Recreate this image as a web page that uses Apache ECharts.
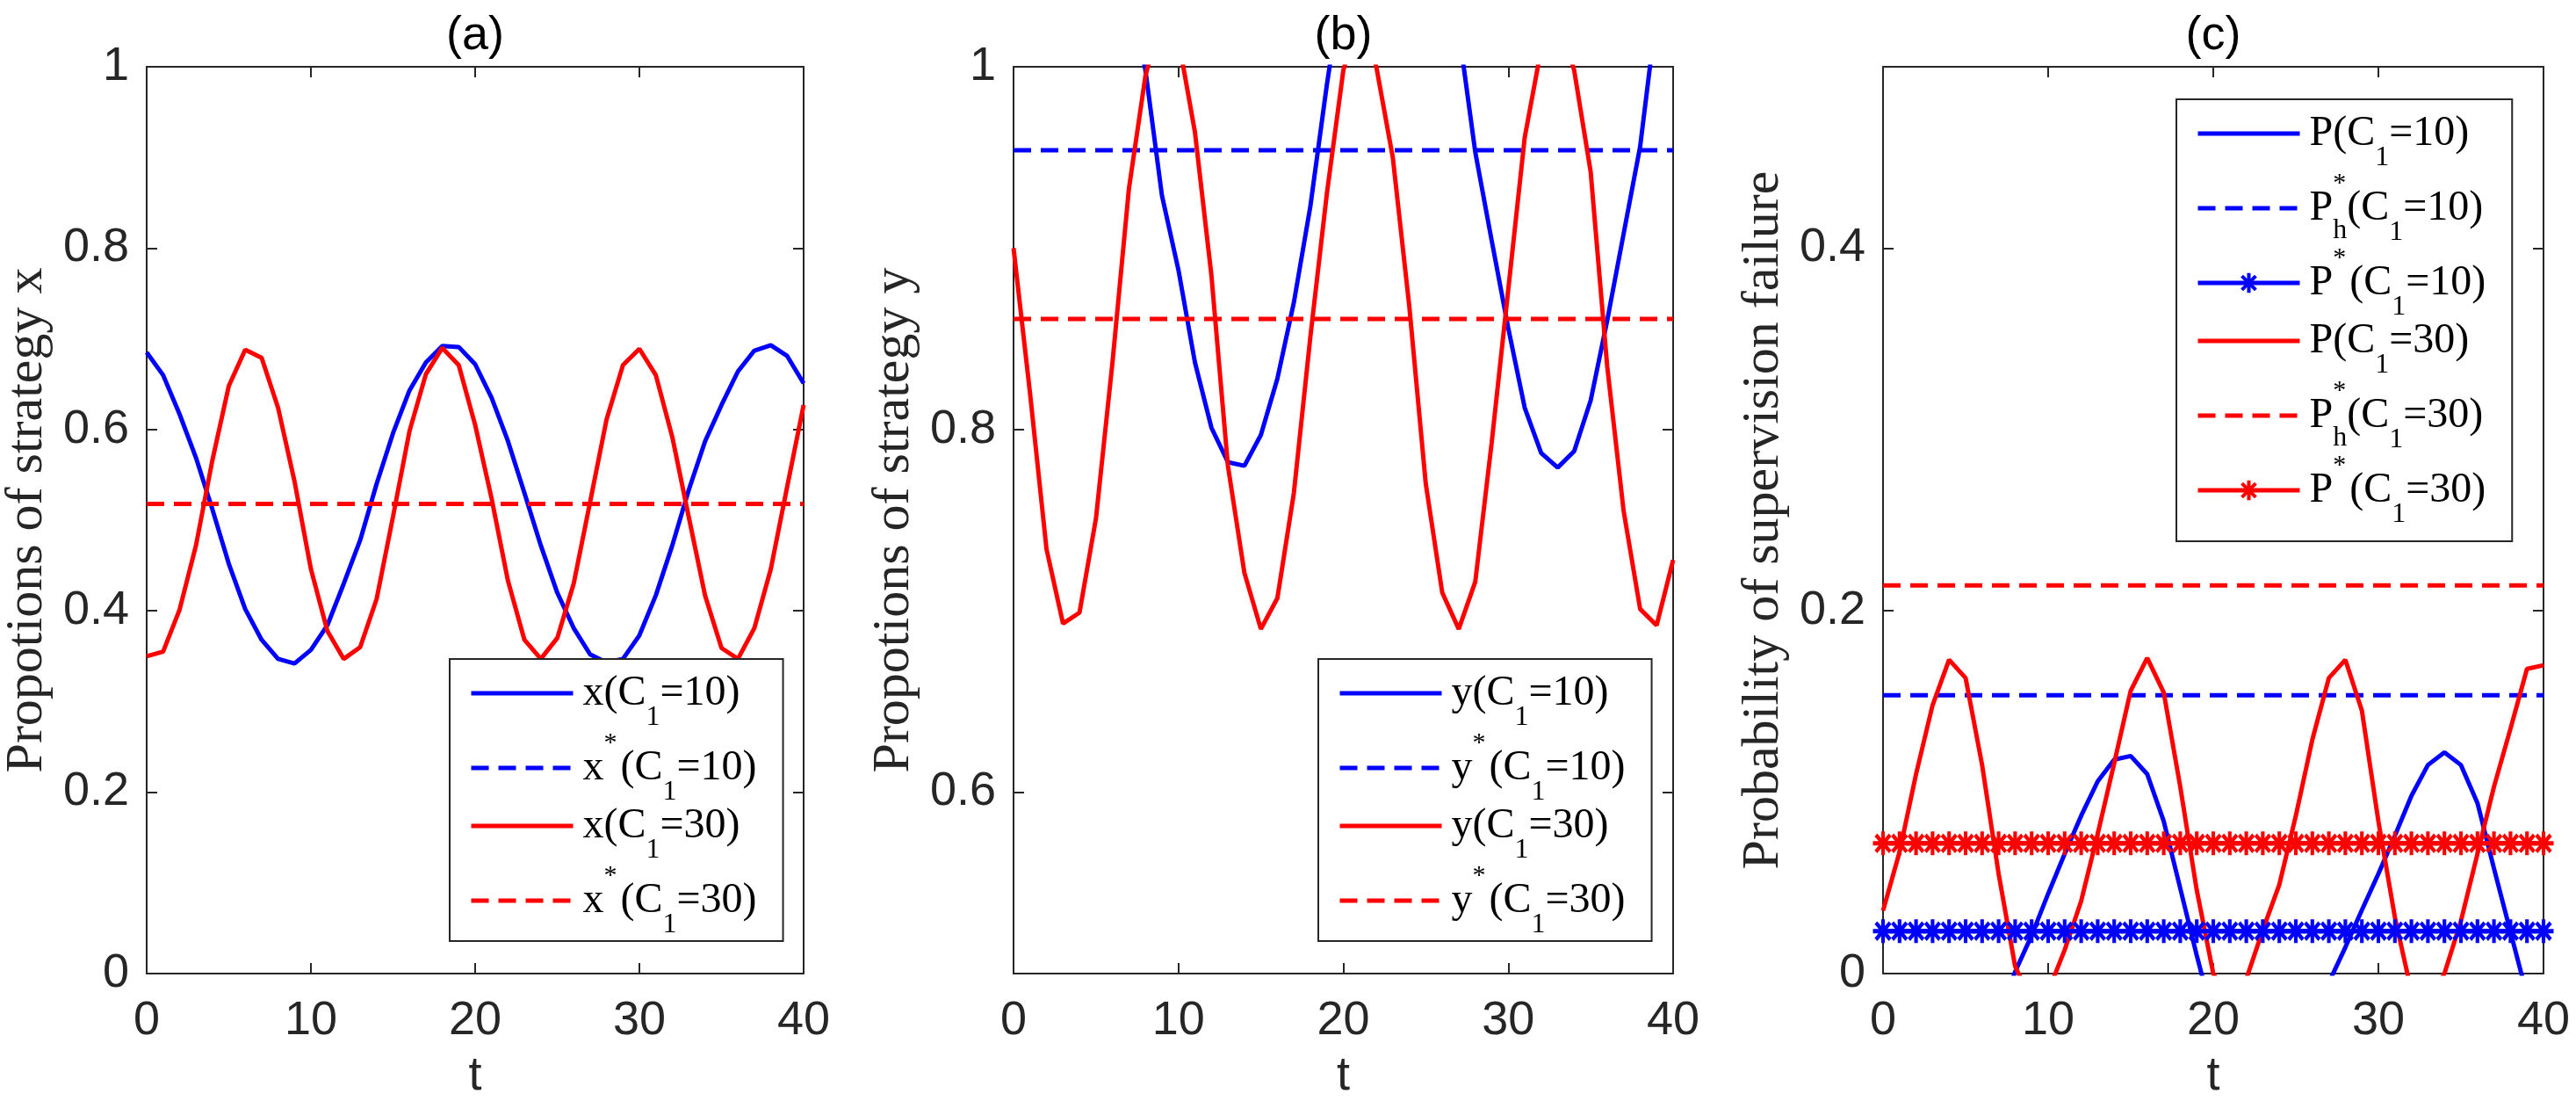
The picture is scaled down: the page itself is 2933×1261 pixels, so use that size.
<!DOCTYPE html>
<html>
<head>
<meta charset="utf-8">
<script src="https://cdn.jsdelivr.net/npm/echarts@6/dist/echarts.min.js"></script>
<style>
html, body { margin: 0; padding: 0; background: #fff; }
#chart { width: 2933px; height: 1261px; }
</style>
</head>
<body>
<div id="chart"></div>
<script>
// time steps
var T = [0, 1, 2, 3, 4, 5, 6, 7, 8, 9, 10, 11, 12, 13, 14, 15, 16, 17, 18, 19, 20,
  21, 22, 23, 24, 25, 26, 27, 28, 29, 30, 31, 32, 33, 34, 35, 36, 37, 38, 39, 40];

// (a) proportions of strategy x
var xC10 = [0.685, 0.660, 0.617, 0.569, 0.512, 0.452, 0.402, 0.368, 0.347, 0.342, 0.357,
  0.384, 0.430, 0.478, 0.540, 0.596, 0.643, 0.674, 0.692, 0.691, 0.672,
  0.635, 0.587, 0.530, 0.472, 0.420, 0.381, 0.352, 0.343, 0.347, 0.373,
  0.417, 0.472, 0.533, 0.587, 0.627, 0.664, 0.687, 0.693, 0.681, 0.651];
var xC30 = [0.350, 0.355, 0.401, 0.472, 0.566, 0.648, 0.688, 0.679, 0.624, 0.543, 0.446,
  0.378, 0.347, 0.360, 0.413, 0.504, 0.598, 0.661, 0.690, 0.671, 0.605,
  0.524, 0.433, 0.368, 0.347, 0.370, 0.430, 0.520, 0.611, 0.671, 0.689,
  0.660, 0.592, 0.504, 0.417, 0.359, 0.347, 0.381, 0.446, 0.537, 0.627];
var xStar10 = 0.518;
var xStar30 = 0.518;

// (b) proportions of strategy y
var yC10 = [1.02, 1.07, 1.11, 1.14, 1.145, 1.13, 1.10, 1.045, 0.998, 0.929, 0.888,
  0.837, 0.801, 0.782, 0.780, 0.797, 0.828, 0.870, 0.923, 0.990, 1.05,
  1.10, 1.13, 1.145, 1.14, 1.12, 1.08, 1.02, 0.953, 0.904, 0.856,
  0.812, 0.787, 0.779, 0.788, 0.816, 0.860, 0.908, 0.956, 1.03, 1.08];
var yC30 = [0.900, 0.820, 0.734, 0.693, 0.699, 0.751, 0.837, 0.933, 0.995, 1.03, 1.015,
  0.964, 0.885, 0.780, 0.721, 0.690, 0.707, 0.765, 0.851, 0.930, 0.998,
  1.03, 1.0, 0.950, 0.868, 0.770, 0.710, 0.690, 0.716, 0.793, 0.877,
  0.961, 1.01, 1.03, 0.998, 0.942, 0.835, 0.755, 0.701, 0.692, 0.728];
var yStar10 = 0.954;
var yStar30 = 0.861;

// (c) probability of supervision failure
var pC10 = [-0.005, -0.03, -0.05, -0.065, -0.07, -0.065, -0.05, -0.025, 0.001, 0.021, 0.044,
  0.066, 0.087, 0.106, 0.118, 0.120, 0.110, 0.084, 0.047, 0.010, -0.025,
  -0.045, -0.063, -0.07, -0.068, -0.055, -0.035, -0.005, 0.0145, 0.035, 0.055,
  0.076, 0.098, 0.115, 0.122, 0.115, 0.094, 0.058, 0.023, -0.012, -0.045];
var pC30 = [0.0347, 0.067, 0.110, 0.148, 0.173, 0.163, 0.115, 0.055, 0.004, -0.015, -0.010,
  0.013, 0.040, 0.077, 0.116, 0.156, 0.174, 0.155, 0.103, 0.046, 0.0,
  -0.015, -0.003, 0.024, 0.049, 0.087, 0.129, 0.163, 0.173, 0.145, 0.084,
  0.031, -0.010, -0.015, 0.0, 0.029, 0.066, 0.103, 0.135, 0.168, 0.170];
var pStarH10 = 0.1535;
var pStarH30 = 0.214;
var pStar10 = 0.0234;
var pStar30 = 0.0718;

// axis ticks / titles
var yTicksA = [0, 0.2, 0.4, 0.6, 0.8, 1];
var yTicksB = [0.6, 0.8, 1];
var yTicksC = [0, 0.2, 0.4];
var panelTitles = ['(a)', '(b)', '(c)'];
var yNames = ['Propotions of strategy x', 'Propotions of strategy y', 'Probability of supervision failure'];

var BLUE = '#0000ff', RED = '#ff0000', AX = '#262626';
var SANS = '"Liberation Sans", Arial, Helvetica, sans-serif';
var SERIF = '"Liberation Serif", "Times New Roman", serif';
var DASH = [20, 11];
var LW = 5;
// MATLAB style '*' marker
var STAR = 'path://M0,41L100,41L100,59L0,59Z M41,0L59,0L59,100L41,100Z ' +
  'M21,8.3L91.7,79L79,91.7L8.3,21Z M79,8.3L91.7,21L21,91.7L8.3,79Z';

var panels = [
  { left: 165, width: 750, yMin: 0, yMax: 1, ticks: yTicksA },
  { left: 1154, width: 751, yMin: 0.5, yMax: 1, ticks: yTicksB },
  { left: 2144, width: 752, yMin: 0, yMax: 0.5, ticks: yTicksC }
];
var TOP = 76, HEIGHT = 1032;

function pairs(vals) {
  return T.map(function (t, i) { return [t, vals[i]]; });
}
function flat(v) {
  return T.map(function (t) { return [t, v]; });
}
function mkSeries(name, k, data, color, dashed, star) {
  return {
    name: name, type: 'line', xAxisIndex: 2 * k, yAxisIndex: 2 * k,
    data: data, clip: true,
    symbol: star ? STAR : 'none', symbolSize: star ? [23, 27] : 0,
    showSymbol: !!star,
    itemStyle: { color: color },
    lineStyle: { color: color, width: LW, type: dashed ? DASH : 'solid' },
    emphasis: { disabled: true }
  };
}

var xAxes = [], yAxes = [], grids = [];
panels.forEach(function (p, k) {
  grids.push({ left: p.left, top: TOP, width: p.width, height: HEIGHT });
  var common = {
    gridIndex: k, type: 'value', min: 0, max: 40, interval: 10,
    axisLine: { show: true, onZero: false, lineStyle: { color: AX, width: 2 } },
    axisTick: { show: true, inside: true, length: 12, lineStyle: { color: AX, width: 2 } },
    splitLine: { show: false }
  };
  xAxes.push(Object.assign({}, common, {
    position: 'bottom',
    axisLabel: { fontSize: 54, color: AX, fontFamily: SANS, margin: 27 },
    name: 't', nameLocation: 'middle', nameGap: 90,
    nameTextStyle: { fontSize: 54, color: AX, fontFamily: SANS }
  }));
  xAxes.push(Object.assign({}, common, {
    position: 'top',
    axisLabel: { show: false },
    name: panelTitles[k], nameLocation: 'middle', nameGap: 8,
    nameTextStyle: { fontSize: 54, color: '#000', fontFamily: SANS }
  }));
  var yc = {
    gridIndex: k, type: 'value', min: p.yMin, max: p.yMax,
    axisLine: { show: true, onZero: false, lineStyle: { color: AX, width: 2 } },
    axisTick: { show: true, inside: true, length: 12, customValues: p.ticks, lineStyle: { color: AX, width: 2 } },
    splitLine: { show: false }
  };
  yAxes.push(Object.assign({}, yc, {
    position: 'left',
    axisLabel: { fontSize: 54, color: AX, fontFamily: SANS, margin: 20, customValues: p.ticks },
    name: yNames[k], nameLocation: 'middle', nameGap: 106,
    nameTextStyle: { fontSize: 60, color: AX, fontFamily: SERIF }
  }));
  yAxes.push(Object.assign({}, yc, {
    position: 'right',
    axisLabel: { show: false, customValues: p.ticks }
  }));
});

var series = [
  mkSeries('xa10', 0, pairs(xC10), BLUE, false),
  mkSeries('xs10', 0, flat(xStar10), BLUE, true),
  mkSeries('xa30', 0, pairs(xC30), RED, false),
  mkSeries('xs30', 0, flat(xStar30), RED, true),
  mkSeries('ya10', 1, pairs(yC10), BLUE, false),
  mkSeries('ys10', 1, flat(yStar10), BLUE, true),
  mkSeries('ya30', 1, pairs(yC30), RED, false),
  mkSeries('ys30', 1, flat(yStar30), RED, true),
  mkSeries('pa10', 2, pairs(pC10), BLUE, false),
  mkSeries('ph10', 2, flat(pStarH10), BLUE, true),
  mkSeries('ps10', 2, flat(pStar10), BLUE, false, true),
  mkSeries('pa30', 2, pairs(pC30), RED, false),
  mkSeries('ph30', 2, flat(pStarH30), RED, true),
  mkSeries('ps30', 2, flat(pStar30), RED, false, true)
];

var LABELS = {
  xa10: '{m0|x(C}{sb|1}{m|=10)}',
  xs10: '{m0|x}{sp|*}{m|(C}{sb|1}{m|=10)}',
  xa30: '{m0|x(C}{sb|1}{m|=30)}',
  xs30: '{m0|x}{sp|*}{m|(C}{sb|1}{m|=30)}',
  ya10: '{m0|y(C}{sb|1}{m|=10)}',
  ys10: '{m0|y}{sp|*}{m|(C}{sb|1}{m|=10)}',
  ya30: '{m0|y(C}{sb|1}{m|=30)}',
  ys30: '{m0|y}{sp|*}{m|(C}{sb|1}{m|=30)}',
  pa10: '{m0|P(C}{sb|1}{m|=10)}',
  ph10: '{m0|P}{sp0|*}{sh|h}{m|(C}{sb|1}{m|=10)}',
  ps10: '{m0|P}{sp|*}{m|(C}{sb|1}{m|=10)}',
  pa30: '{m0|P(C}{sb|1}{m|=30)}',
  ph30: '{m0|P}{sp0|*}{sh|h}{m|(C}{sb|1}{m|=30)}',
  ps30: '{m0|P}{sp|*}{m|(C}{sb|1}{m|=30)}'
};
// vertical offsets of super/subscripts come from asymmetric padding with middle alignment
var RICH = {
  m0: { fontFamily: SERIF, fontSize: 48, color: '#000', padding: [0, 0, 0, 6] },
  m: { fontFamily: SERIF, fontSize: 48, color: '#000' },
  sp: { fontFamily: SERIF, fontSize: 30, color: '#000', padding: [0, 4, 56, 0] },
  sp0: { fontFamily: SERIF, fontSize: 30, color: '#000', width: 0, align: 'left', padding: [0, 0, 56, 0] },
  sh: { fontFamily: SERIF, fontSize: 32, color: '#000', padding: [52, 0, 0, 0] },
  sb: { fontFamily: SERIF, fontSize: 32, color: '#000', padding: [56, 0, 0, 0] }
};

// legend entries: hide the default circle for lines without markers
function entry(name, marker) {
  return marker ? { name: name } : { name: name, itemStyle: { opacity: 0 } };
}
function mkLegend(items, left, top, padBottom) {
  return {
    data: items, orient: 'vertical', left: left, top: top,
    itemWidth: 116, itemHeight: 28, itemGap: -2,
    padding: [15, 30, padBottom, 22],
    borderColor: AX, borderWidth: 2, backgroundColor: '#fff',
    selectedMode: false,
    lineStyle: { width: LW },
    formatter: function (n) { return LABELS[n]; },
    textStyle: { rich: RICH }
  };
}

var option = {
  animation: false,
  backgroundColor: '#fff',
  grid: grids,
  xAxis: xAxes,
  yAxis: yAxes,
  legend: [
    mkLegend([entry('xa10'), entry('xs10'), entry('xa30'), entry('xs30')], 512, 750, 2),
    mkLegend([entry('ya10'), entry('ys10'), entry('ya30'), entry('ys30')], 1501, 750, 2),
    mkLegend([entry('pa10'), entry('ph10'), entry('ps10', true), entry('pa30'), entry('ph30'), entry('ps30', true)], 2478, 113, 14)
  ],
  series: series
};

var chart = echarts.init(document.getElementById('chart'));
chart.setOption(option);
</script>
</body>
</html>
